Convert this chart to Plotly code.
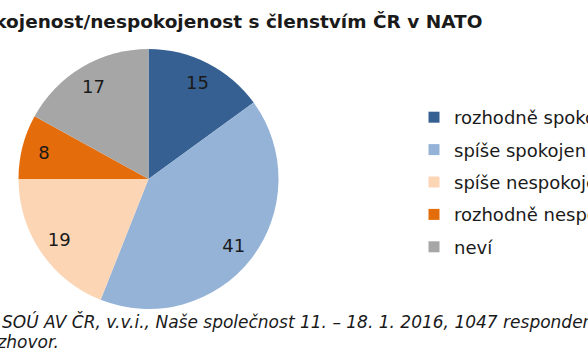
import plotly.graph_objects as go

categories = ["rozhodně spokojen", "spíše spokojen", "spíše nespokojen", "rozhodně nespokojen", "neví"]
values = [15, 41, 19, 8, 17]
colors = ["#376092", "#95B3D7", "#FCD5B5", "#E46C0A", "#A6A6A6"]
title_text = "Spokojenost/nespokojenost s členstvím ČR v NATO"
source_line1 = "SOÚ AV ČR, v.v.i., Naše společnost 11. – 18. 1. 2016, 1047 respondentů starších 15 let, osobní"
source_line2 = "rozhovor."

W, H = 588, 363
cx, cy, R = 148.5, 179, 130
FONT = "Verdana, DejaVu Sans, sans-serif"

dom = dict(x=[(cx - R) / W, (cx + R) / W], y=[1 - (cy + R) / H, 1 - (cy - R) / H])

fig = go.Figure()
fig.add_trace(go.Pie(
    labels=categories, values=values, sort=False, direction="clockwise", rotation=0,
    marker=dict(colors=colors, line=dict(width=0)), textinfo="none",
    showlegend=False, domain=dom,
))
fig.add_trace(go.Pie(
    labels=categories, values=values, sort=False, direction="clockwise", rotation=0,
    hole=0.66, marker=dict(colors=["rgba(0,0,0,0)"] * len(values), line=dict(width=0)),
    textinfo="value", textposition="inside", insidetextorientation="horizontal",
    textfont=dict(family=FONT, size=18, color="#1a1a1a"),
    showlegend=False, domain=dom, hoverinfo="skip",
))
for cat, col in zip(categories, colors):
    fig.add_trace(go.Scatter(
        x=[None], y=[None], mode="markers", name=cat, legendgroup=cat,
        marker=dict(symbol="square", size=11, color=col), showlegend=True,
    ))

fig.update_layout(
    width=W, height=H, margin=dict(l=0, r=0, t=0, b=0, autoexpand=False),
    paper_bgcolor="white", plot_bgcolor="white",
    xaxis=dict(visible=False), yaxis=dict(visible=False),
    legend=dict(
        x=414 / W, y=1 - 99 / H, xanchor="left", yanchor="top",
        font=dict(family=FONT, size=18, color="#1a1a1a"),
        tracegroupgap=6, bgcolor="rgba(0,0,0,0)",
    ),
    annotations=[
        dict(text="<b>" + title_text + "</b>", x=484 / W, y=1 - 21 / H, xref="paper", yref="paper",
             xanchor="right", yanchor="middle", showarrow=False,
             font=dict(family=FONT, size=18.5, color="#1a1a1a")),
        dict(text="<i>" + source_line1 + "</i>", x=0, y=1 - 321 / H, xref="paper", yref="paper",
             xanchor="left", yanchor="middle", showarrow=False,
             font=dict(family=FONT, size=17, color="#1a1a1a")),
        dict(text="<i>" + source_line2 + "</i>", x=61 / W, y=1 - 342 / H, xref="paper", yref="paper",
             xanchor="right", yanchor="middle", showarrow=False,
             font=dict(family=FONT, size=17, color="#1a1a1a")),
    ],
)
fig.write_html(
    "out.html",
    config={"displayModeBar": False},
    post_script="document.body.style.margin='0';document.body.style.overflow='hidden';",
)
